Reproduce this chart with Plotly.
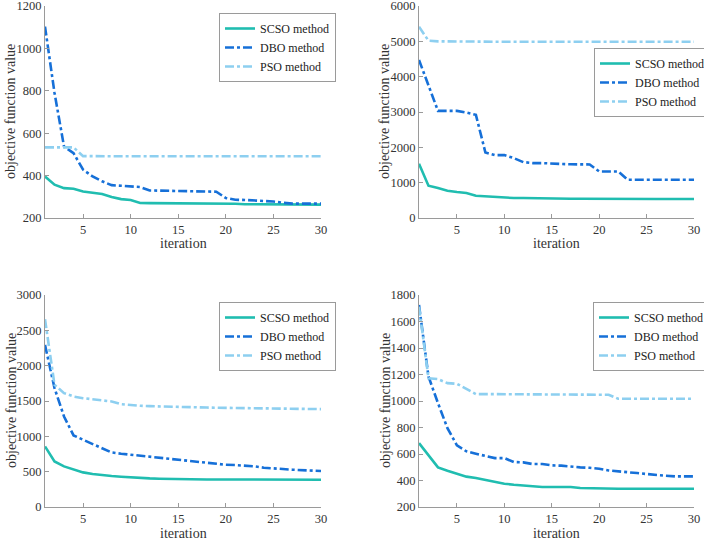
import plotly.graph_objects as go

iters = list(range(1, 31))

# Panel 1 (top-left)
p1_scso = [396, 357, 341, 338, 325, 318, 313, 299, 289, 285, 271, 270, 270, 270, 270, 270, 270, 269, 269, 268,
           267, 265, 265, 265, 264, 264, 264, 263, 263, 263]
p1_dbo = [1103, 790, 537, 506, 428, 396, 373, 355, 352, 349, 346, 330, 329, 328, 327, 326, 325, 325, 324, 294,
          286, 285, 283, 280, 278, 272, 268, 268, 268, 268]
p1_pso = [533, 533, 533, 533, 492, 491, 491, 491, 491, 491, 491, 491, 491, 491, 491, 491, 491, 491, 491, 491,
          491, 491, 491, 491, 491, 491, 491, 491, 491, 491]

# Panel 2 (top-right)
p2_scso = [1535, 913, 847, 772, 734, 706, 631, 612, 593, 574, 565, 565, 565, 565, 565, 560, 546, 543, 540, 537,
           537, 537, 537, 537, 537, 537, 537, 537, 537, 537]
p2_dbo = [4473, 3750, 3032, 3032, 3032, 2985, 2919, 1855, 1780, 1780, 1695, 1582, 1554, 1554, 1535, 1530, 1520,
          1516, 1516, 1318, 1318, 1318, 1083, 1083, 1083, 1083, 1083, 1083, 1083, 1083]
p2_pso = [5414, 5019, 5000, 4995, 4990, 4990, 4990, 4990, 4990, 4990, 4990, 4990, 4990, 4990, 4990, 4990, 4990,
          4990, 4990, 4990, 4990, 4990, 4990, 4990, 4990, 4990, 4990, 4990, 4990, 4990]

# Panel 3 (bottom-left)
p3_scso = [857, 645, 575, 527, 490, 466, 447, 438, 429, 419, 410, 405, 400, 396, 392, 391, 391, 390, 390, 389,
           389, 388, 388, 388, 387, 387, 387, 386, 386, 386]
p3_dbo = [2294, 1682, 1281, 1013, 951, 895, 834, 772, 754, 739, 725, 711, 697, 683, 669, 655, 641, 627, 612, 598,
          593, 589, 575, 556, 542, 537, 528, 523, 513, 509]
p3_pso = [2657, 1729, 1611, 1564, 1540, 1526, 1507, 1493, 1455, 1441, 1432, 1427, 1422, 1418, 1413, 1411, 1409,
          1407, 1405, 1404, 1402, 1400, 1398, 1396, 1394, 1392, 1390, 1388, 1386, 1385]

# Panel 4 (bottom-right)
p4_scso = [682, 594, 499, 474, 451, 429, 419, 406, 388, 376, 368, 361, 353, 351, 351, 351, 351, 343, 341, 338,
           338, 338, 338, 338, 338, 338, 338, 338, 338, 338]
p4_dbo = [1725, 1185, 984, 795, 665, 620, 602, 584, 569, 569, 539, 537, 524, 524, 514, 512, 504, 499, 496, 489,
          476, 471, 466, 456, 449, 441, 436, 431, 431, 431]
p4_pso = [1712, 1172, 1165, 1135, 1130, 1090, 1052, 1052, 1052, 1052, 1052, 1052, 1052, 1052, 1052, 1052, 1052,
          1052, 1052, 1052, 1047, 1017, 1017, 1017, 1017, 1017, 1017, 1017, 1017, 1017]

names = ["SCSO method", "DBO method", "PSO method"]
colors = ["#20BDB0", "#1670D8", "#8DCFF0"]
dashes = ["solid", "dashdot", "dashdot"]

panels = [
    (p1_scso, p1_dbo, p1_pso, [200, 1200], 200),
    (p2_scso, p2_dbo, p2_pso, [0, 6000], 1000),
    (p3_scso, p3_dbo, p3_pso, [0, 3000], 500),
    (p4_scso, p4_dbo, p4_pso, [200, 1800], 200),
]

W, H = 704, 541
# plot-area pixel boxes (x0, x1, ytop, ybottom)
boxes = [(45, 321, 6, 218), (419, 694, 6, 218), (45, 321, 295, 507), (419, 694, 295, 507)]
legend_pos = [(219, 13), (594, 48), (219, 302), (593, 302)]

font_family = "'Liberation Serif', 'Times New Roman', serif"
fig = go.Figure()
layout = dict(
    width=W, height=H, margin=dict(l=0, r=0, t=0, b=0, autoexpand=False),
    paper_bgcolor="white", plot_bgcolor="white",
    font=dict(family=font_family, size=13, color="#333333"),
    annotations=[],
)

for i, (s, d, p, yr, dt) in enumerate(panels):
    k = i + 1
    xa = "x" if k == 1 else f"x{k}"
    ya = "y" if k == 1 else f"y{k}"
    lg = "legend" if k == 1 else f"legend{k}"
    for series, nm, c, ds in zip([s, d, p], names, colors, dashes):
        fig.add_trace(go.Scatter(x=iters, y=series, mode="lines", name=nm,
                                 line=dict(color=c, width=2.6, dash=ds),
                                 xaxis=xa, yaxis=ya, legend=lg))
    x0, x1, yt, yb = boxes[i]
    axis_common = dict(showline=True, linecolor="#9a9a9a", linewidth=1, ticks="inside",
                       ticklen=4, tickcolor="#9a9a9a", showgrid=False, zeroline=False,
                       automargin=False, ticklabeloverflow="allow",
                       tickfont=dict(family=font_family, size=12.5, color="#333333"))
    layout[f"xaxis{'' if k == 1 else k}"] = dict(
        domain=[x0 / W, x1 / W], range=[1, 30], tickvals=[5, 10, 15, 20, 25, 30],
        anchor=ya, **axis_common)
    layout[f"yaxis{'' if k == 1 else k}"] = dict(
        domain=[1 - yb / H, 1 - yt / H], range=yr, dtick=dt, anchor=xa, **axis_common)
    lx, ly = legend_pos[i]
    layout[lg] = dict(x=lx / W, y=1 - ly / H, xanchor="left", yanchor="top",
                      bgcolor="white", bordercolor="#9a9a9a", borderwidth=1,
                      font=dict(family=font_family, size=12, color="#222222"),
                      tracegroupgap=0, itemwidth=30)
    layout["annotations"].append(dict(
        text="iteration", x=(x0 + x1) / 2 / W, y=1 - (yb + 26) / H, xref="paper", yref="paper",
        xanchor="center", yanchor="middle",
        showarrow=False, font=dict(family=font_family, size=14, color="#333333")))
    layout["annotations"].append(dict(
        text="objective function value", x=(x0 - 34) / W, y=1 - (yt + yb) / 2 / H,
        xref="paper", yref="paper", showarrow=False, textangle=-90,
        xanchor="center", yanchor="middle",
        font=dict(family=font_family, size=14, color="#333333")))

fig.update_layout(**layout)
fig.write_html("out.html", post_script="document.body.style.margin='0';document.body.style.overflow='hidden';")
